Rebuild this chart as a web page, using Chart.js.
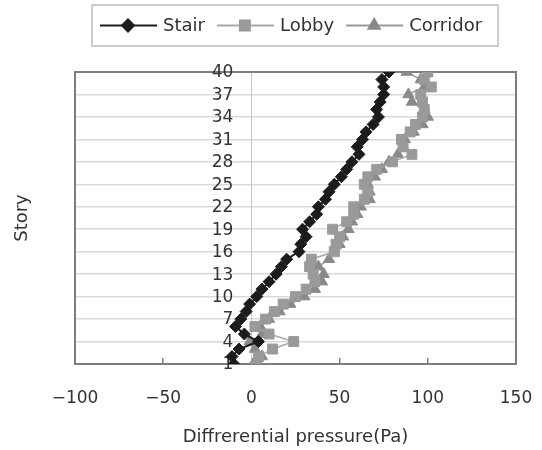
<!DOCTYPE html>
<html>
<head>
<meta charset="utf-8">
<script src="https://cdn.jsdelivr.net/npm/chart.js@4/dist/chart.umd.min.js"></script>
<style>
    html, body { margin: 0; padding: 0; background: #fff; }
    #wrap { width: 542px; height: 450px; }
</style>
</head>
<body>
<div id="wrap"><canvas id="pressureChart" width="542" height="450"></canvas></div>
<script>
// Story numbers and measured differential pressure (Pa) per story
const stories = [1, 2, 3, 4, 5, 6, 7, 8, 9, 10, 11, 12, 13, 14, 15, 16, 17, 18, 19, 20,
                 21, 22, 23, 24, 25, 26, 27, 28, 29, 30, 31, 32, 33, 34, 35, 36, 37, 38, 39, 40];
const stair = [-10, -11, -7, 4, -4, -9, -6, -3, -1, 3, 6, 10, 14, 17, 20, 27, 28, 31, 29, 33,
               37, 38, 42, 44, 47, 51, 54, 57, 61, 60, 63, 65, 69, 72, 71, 73, 75, 75, 74, 78];
const lobby = [3, 4, 12, 24, 10, 2, 8, 13, 18, 25, 31, 36, 35, 33, 34, 47, 48, 50, 46, 54,
               58, 58, 64, 66, 64, 66, 71, 80, 91, 86, 85, 90, 93, 97, 98, 97, 96, 102, 98, 100];
const corridor = [1, 6, 2, -1, 6, 5, 10, 16, 22, 30, 36, 40, 41, 38, 44, 47, 50, 52, 55, 57,
                  60, 62, 67, 67, 66, 70, 74, 78, 83, 86, 87, 92, 97, 100, 98, 91, 89, 98, 96, 88];
const seriesNames = ['Stair', 'Lobby', 'Corridor'];
const xTicks = [-100, -50, 0, 50, 100, 150];

const FONT = 'DejaVu Sans';
const TEXT = '#333';

function points(values) {
    return values.map((v, i) => ({ x: v, y: stories[i] }));
}

// Boxed legend with line + marker samples, drawn above the plot
const boxedLegend = {
    id: 'boxedLegend',
    afterDraw(chart) {
        const ctx = chart.ctx;
        const left = 92, top = 5, height = 41;
        const midY = top + height / 2;
        ctx.save();
        ctx.font = '18px "' + FONT + '"';
        ctx.textBaseline = 'middle';
        let x = left + 8;
        chart.data.datasets.forEach(ds => {
            ctx.strokeStyle = ds.borderColor;
            ctx.lineWidth = 2;
            ctx.beginPath();
            ctx.moveTo(x, midY);
            ctx.lineTo(x + 57, midY);
            ctx.stroke();
            ctx.fillStyle = ds.pointBackgroundColor;
            ctx.strokeStyle = ds.pointBorderColor;
            Chart.helpers.drawPoint(ctx, {
                pointStyle: ds.pointStyle, radius: ds.pointRadius, borderWidth: 1, rotation: 0
            }, x + 28, midY);
            ctx.fillStyle = TEXT;
            ctx.fillText(ds.label, x + 63, midY + 1);
            x += 63 + ctx.measureText(ds.label).width + 12;
        });
        ctx.strokeStyle = '#bdbdbd';
        ctx.lineWidth = 1.5;
        ctx.strokeRect(left, top, x + 4 - left, height);
        ctx.restore();
    }
};

// Plot frame, story labels beside the zero line and the vertical "Story" title
const frame = {
    id: 'frame',
    beforeDatasetsDraw(chart) {
        const { ctx, chartArea: a, scales } = chart;
        ctx.save();
        ctx.strokeStyle = '#7d7d7d';
        ctx.lineWidth = 2;
        ctx.strokeRect(a.left, a.top, a.right - a.left, a.bottom - a.top);

        ctx.font = '17px "' + FONT + '"';
        ctx.fillStyle = TEXT;
        ctx.textAlign = 'right';
        ctx.textBaseline = 'middle';
        const x0 = scales.x.getPixelForValue(0) - 18;
        scales.y.ticks.forEach(t => {
            ctx.fillText(String(t.value), x0, scales.y.getPixelForValue(t.value) + 1);
        });

        ctx.translate(22, (a.top + a.bottom) / 2);
        ctx.rotate(-Math.PI / 2);
        ctx.font = '18px "' + FONT + '"';
        ctx.textAlign = 'center';
        ctx.fillText('Story', 0, 0);
        ctx.restore();
    }
};

Chart.defaults.font.family = FONT;
Chart.defaults.color = TEXT;

new Chart(document.getElementById('pressureChart'), {
    type: 'scatter',
    data: {
        datasets: [
            {
                label: seriesNames[0], data: points(stair), showLine: true,
                borderColor: '#1c1c1c', borderWidth: 2,
                pointStyle: 'rectRot', pointRadius: 6,
                pointBackgroundColor: '#1c1c1c', pointBorderColor: '#1c1c1c', pointBorderWidth: 1
            },
            {
                label: seriesNames[1], data: points(lobby), showLine: true,
                borderColor: '#a8a8a8', borderWidth: 1.5,
                pointStyle: 'rect', pointRadius: 7,
                pointBackgroundColor: '#9a9a9a', pointBorderColor: '#9a9a9a', pointBorderWidth: 1
            },
            {
                label: seriesNames[2], data: points(corridor), showLine: true,
                borderColor: '#999999', borderWidth: 1.5,
                pointStyle: 'triangle', pointRadius: 6.5,
                pointBackgroundColor: '#8a8a8a', pointBorderColor: '#8a8a8a', pointBorderWidth: 1
            }
        ]
    },
    options: {
        responsive: false,
        animation: false,
        layout: { padding: { top: 72, left: 75, right: 26, bottom: 0 } },
        plugins: {
            legend: { display: false },
            tooltip: { enabled: false }
        },
        scales: {
            x: {
                type: 'linear',
                min: xTicks[0],
                max: xTicks[xTicks.length - 1],
                afterBuildTicks: s => { s.ticks = xTicks.map(v => ({ value: v })); },
                afterFit: s => {
                    s.height = 86;
                    s.paddingLeft = 0;
                    s.paddingRight = 0;
                },
                border: { display: false },
                grid: {
                    drawOnChartArea: false, drawTicks: true, tickLength: -6,
                    color: '#7d7d7d', lineWidth: 1.5
                },
                ticks: {
                    font: { size: 17 }, padding: 30, maxRotation: 0,
                    callback: v => String(v).replace('-', '\u2212')
                },
                title: {
                    display: true, text: 'Diffrerential pressure(Pa)',
                    font: { size: 18 }, padding: { top: 0, bottom: 2 }
                }
            },
            y: {
                type: 'linear',
                position: { x: 0 },
                min: stories[0],
                max: stories[stories.length - 1],
                border: { display: true, color: '#c4c4c4', width: 1 },
                grid: { color: '#dadada', lineWidth: 1.5, drawTicks: false },
                ticks: { stepSize: 3, autoSkip: false, display: false }
            }
        }
    },
    plugins: [frame, boxedLegend]
});
</script>
</body>
</html>
